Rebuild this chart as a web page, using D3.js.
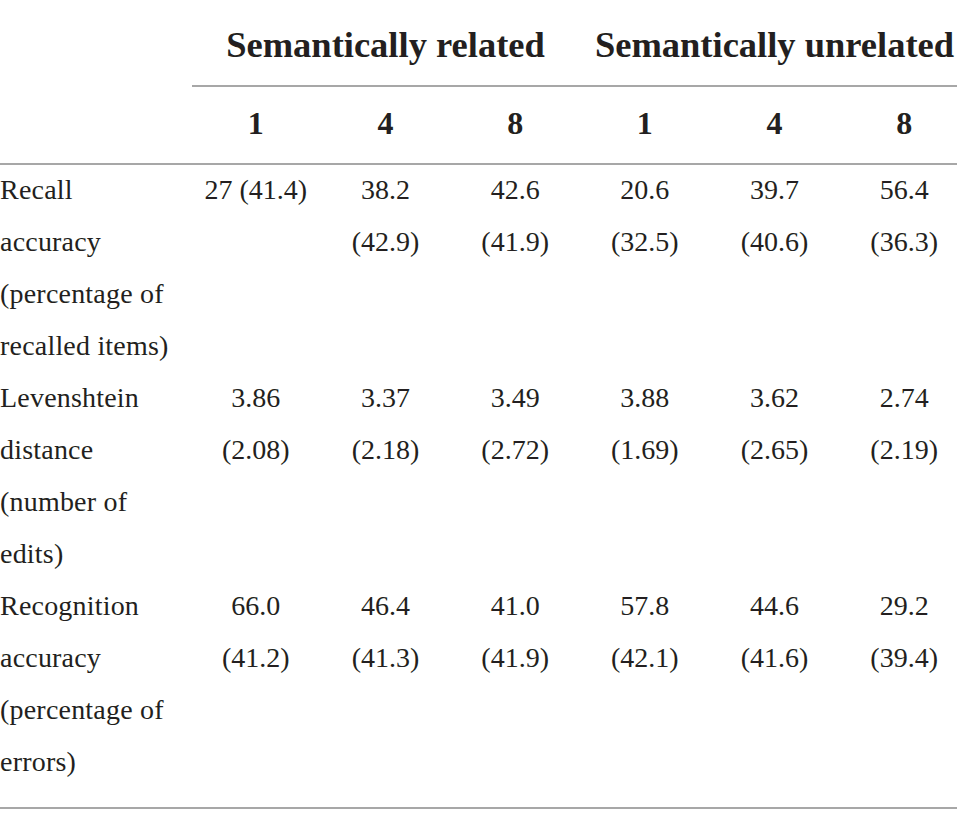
<!DOCTYPE html>
<html><head><meta charset="utf-8">
<script src="https://cdn.jsdelivr.net/npm/d3@7"></script>
<style>
html,body{margin:0;padding:0;background:#fff;}
svg{display:block;}
text{font-family:"Liberation Serif","DejaVu Serif",serif;fill:#231f20;}
</style></head>
<body>
<svg id="chart" width="957" height="823"></svg>
<script>
// ---- data ----
const groups = ["Semantically related", "Semantically unrelated"];
const setSizes = ["1", "4", "8"];
const measures = [
  ["Recall", "accuracy", "(percentage of", "recalled items)"],
  ["Levenshtein", "distance", "(number of", "edits)"],
  ["Recognition", "accuracy", "(percentage of", "errors)"]
];
const meanValues = [
  ["27", "38.2", "42.6", "20.6", "39.7", "56.4"],
  ["3.86", "3.37", "3.49", "3.88", "3.62", "2.74"],
  ["66.0", "46.4", "41.0", "57.8", "44.6", "29.2"]
];
const sdValues = [
  ["41.4", "42.9", "41.9", "32.5", "40.6", "36.3"],
  ["2.08", "2.18", "2.72", "1.69", "2.65", "2.19"],
  ["41.2", "41.3", "41.9", "42.1", "41.6", "39.4"]
];

// ---- layout ----
const W = 957, H = 823;
const svg = d3.select("#chart");
const columns = d3.range(groups.length * setSizes.length);
const x = d3.scaleBand().domain(columns).range([191, 969]);
const gx = d3.scaleBand().domain(groups).range([191, 969]);
const lineCount = measures.length * 4;
const y = d3.scaleLinear().domain([0, lineCount - 1]).range([199, 771]);
const bodySize = 28, headSize = 36.5, digitSize = 32;
const ruleColor = "#a7a7a7";

// rules
svg.append("line").attr("x1", 192).attr("x2", W).attr("y1", 86).attr("y2", 86)
  .attr("stroke", ruleColor).attr("stroke-width", 2);
svg.append("line").attr("x1", 0).attr("x2", W).attr("y1", 164).attr("y2", 164)
  .attr("stroke", ruleColor).attr("stroke-width", 2);
svg.append("line").attr("x1", 0).attr("x2", W).attr("y1", 808).attr("y2", 808)
  .attr("stroke", ruleColor).attr("stroke-width", 2);

// group headers
svg.selectAll("text.group").data(groups).join("text")
  .attr("class", "group")
  .attr("x", d => gx(d) + gx.bandwidth() / 2)
  .attr("y", 57)
  .attr("text-anchor", "middle")
  .style("font-size", headSize + "px").style("font-weight", "bold")
  .text(d => d);

// set size headers
svg.selectAll("text.size").data(columns).join("text")
  .attr("class", "size")
  .attr("x", c => x(c) + x.bandwidth() / 2)
  .attr("y", 134)
  .attr("text-anchor", "middle")
  .style("font-size", digitSize + "px").style("font-weight", "bold")
  .text(c => setSizes[c % setSizes.length]);

// row labels
measures.forEach((lines, r) => {
  svg.selectAll(null).data(lines).join("text")
    .attr("x", 0)
    .attr("y", (d, i) => y(r * 4 + i))
    .style("font-size", bodySize + "px")
    .style("letter-spacing", "0.2px")
    .text(d => d);
});

// cells
const maxW = x.bandwidth() - 14;
meanValues.forEach((row, r) => {
  row.forEach((m, c) => {
    const cx = x(c) + x.bandwidth() / 2;
    const full = m + " (" + sdValues[r][c] + ")";
    const t = svg.append("text")
      .attr("x", cx).attr("y", y(r * 4))
      .attr("text-anchor", "middle")
      .style("font-size", bodySize + "px")
      .text(full);
    if (t.node().getComputedTextLength() > maxW) {
      t.text(m);
      svg.append("text")
        .attr("x", cx).attr("y", y(r * 4 + 1))
        .attr("text-anchor", "middle")
        .style("font-size", bodySize + "px")
        .text("(" + sdValues[r][c] + ")");
    }
  });
});
</script>
</body></html>
